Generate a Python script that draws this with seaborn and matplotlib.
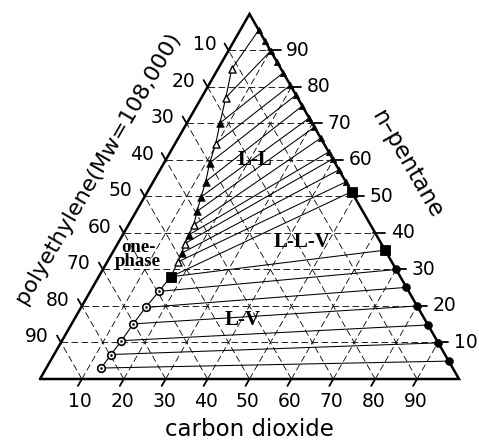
import numpy as np
import pandas as pd
import matplotlib
matplotlib.use("Agg")
import matplotlib.pyplot as plt
import seaborn as sns

H = np.sqrt(3) / 2

# Polymer-rich liquid in the L-L region (wt% CO2, wt% n-pentane)
ll_poly_co2 = [3.3, 5.8, 7.9, 9.7, 10.9, 12.5, 13.5, 14.5, 15.6, 15.8, 16.0, 16.6, 16.9]
ll_poly_pent = [84.9, 77.1, 70.1, 64.5, 59.2, 54.1, 49.9, 45.9, 42.2, 39.5, 37.1, 34.5, 32.1]
ll_poly_open = [True, True, False, True, False, False, False, False, True, False, True, False, True]

# Pentane-rich liquid on the polymer-free edge (wt% n-pentane)
ll_pent_pent = [95.6, 92.7, 89.9, 86.9, 83.9, 80.5, 77.8, 74.8, 71.5, 69.0, 66.0, 62.2, 60.3, 57.3, 54.0]
# Pentane-rich end of each L-L tie line
ll_tie_pent = [95.6, 89.9, 83.9, 80.5, 77.8, 74.8, 71.5, 69.0, 66.0, 62.2, 60.3, 57.3, 54.0]

# Three-phase (L-L-V) compositions
llv_co2 = [17.2, 48.7, 64.7]
llv_pent = [28.0, 51.3, 35.3]

# L-V region: liquid (polymer-rich) and vapour (polymer-free) phases
lv_liq_co2 = [16.4, 15.4, 14.7, 14.2, 13.6, 13.1]
lv_liq_pent = [24.0, 19.6, 15.1, 10.5, 6.7, 3.0]
lv_vap_pent = [30.0, 25.1, 20.0, 14.8, 9.9, 4.9]

tick_values = [10, 20, 30, 40, 50, 60, 70, 80, 90]


def tern(co2, pent):
    co2 = np.asarray(co2, dtype=float)
    pent = np.asarray(pent, dtype=float)
    return co2 + pent / 2, pent * H


sns.set_style("white")
plt.rcParams["font.family"] = ["DejaVu Sans"]
plt.rcParams["text.color"] = "black"

fig = plt.figure(figsize=(4.79, 4.41), dpi=100)
ax = fig.add_axes([0, 0, 1, 1])
ax.set_xlim(-9.547, 104.773)
ax.set_ylim(-14.71, 89.92)
ax.axis("off")

# dashed composition grid
grid_kw = dict(color="black", lw=0.6, ls=(0, (8, 4)), zorder=1)
for v in tick_values:
    ax.plot([v / 2, 100 - v / 2], [v * H, v * H], **grid_kw)
    ax.plot([v, v + (100 - v) / 2], [0, (100 - v) * H], **grid_kw)
    ax.plot([100 - v, (100 - v) / 2], [0, (100 - v) * H], **grid_kw)

# triangle frame
ax.plot([0, 100, 50, 0], [0, 0, 100 * H, 0], color="black", lw=1.8,
        solid_joinstyle="miter", zorder=5)

# tie lines
rows = []
tid = 0
for c, p, pr in zip(ll_poly_co2, ll_poly_pent, ll_tie_pent):
    for cc, pp in [(c, p), (100 - pr, pr)]:
        x, y = tern(cc, pp)
        rows.append((tid, float(x), float(y)))
    tid += 1
for k in (1, 2):
    for cc, pp in [(llv_co2[0], llv_pent[0]), (llv_co2[k], llv_pent[k])]:
        x, y = tern(cc, pp)
        rows.append((tid, float(x), float(y)))
    tid += 1
for c, p, pv in zip(lv_liq_co2, lv_liq_pent, lv_vap_pent):
    for cc, pp in [(c, p), (100 - pv, pv)]:
        x, y = tern(cc, pp)
        rows.append((tid, float(x), float(y)))
    tid += 1
ties = pd.DataFrame(rows, columns=["tie", "x", "y"])
sns.lineplot(data=ties, x="x", y="y", units="tie", estimator=None, sort=False,
             color="black", lw=0.75, legend=False, ax=ax, zorder=3)

# polymer-rich phase boundary
bc = ll_poly_co2 + [llv_co2[0]] + lv_liq_co2
bp = ll_poly_pent + [llv_pent[0]] + lv_liq_pent
bx, by = tern(bc, bp)
bnd = pd.DataFrame({"x": bx, "y": by})
sns.lineplot(data=bnd, x="x", y="y", sort=False, estimator=None, color="black",
             lw=0.8, ax=ax, zorder=3)

# markers
px, py = tern(ll_poly_co2, ll_poly_pent)
poly = pd.DataFrame({"x": px, "y": py, "open": ll_poly_open})
sns.scatterplot(data=poly[poly["open"]], x="x", y="y", marker="^", s=26,
                facecolor="white", edgecolor="black", linewidth=1.0, ax=ax, zorder=6)
sns.scatterplot(data=poly[~poly["open"]], x="x", y="y", marker="^", s=30,
                color="black", edgecolor="black", ax=ax, zorder=6)

ex, ey = tern([100 - p for p in ll_pent_pent], ll_pent_pent)
sns.scatterplot(x=ex, y=ey, marker="^", s=22, color="black", edgecolor="black",
                ax=ax, zorder=6)

sx, sy = tern(llv_co2, llv_pent)
sns.scatterplot(x=sx, y=sy, marker="s", s=55, color="black", edgecolor="black",
                ax=ax, zorder=7)

lx, ly = tern(lv_liq_co2, lv_liq_pent)
sns.scatterplot(x=lx, y=ly, marker="o", s=30, facecolor="white", edgecolor="black",
                linewidth=1.2, ax=ax, zorder=6)
sns.scatterplot(x=lx, y=ly, marker="o", s=3, color="black", edgecolor="black",
                ax=ax, zorder=7)

vx, vy = tern([100 - p for p in lv_vap_pent], lv_vap_pent)
sns.scatterplot(x=vx, y=vy, marker="o", s=32, color="black", edgecolor="black",
                ax=ax, zorder=6)

# ticks and tick labels
tl = 1.9
for v in tick_values:
    # carbon dioxide (bottom)
    ax.plot([v, v - 0.5 * tl], [0, -H * tl], color="black", lw=1.3, zorder=5)
    ax.text(v - 0.4, -5.3, str(v), ha="center", va="center", fontsize=13.5)
    # n-pentane (right)
    xr, yr = tern(100 - v, v)
    ax.plot([xr - 0.5, xr + 2.4], [yr, yr], color="black", lw=1.3, zorder=5)
    ax.text(xr + 3.7, yr, str(v), ha="left", va="center", fontsize=13.5)
    # polyethylene (left)
    xl, yl = tern(0, 100 - v)
    ax.plot([xl, xl - 0.5 * tl], [yl, yl + H * tl], color="black", lw=1.3, zorder=5)
    ax.text(xl - 2.9, yl + 1.4, str(v), ha="right", va="center", fontsize=13.5)

# axis titles
ax.text(50.1, -12.1, "carbon dioxide", ha="center", va="center", fontsize=16.5)
ax.text(87.6, 50.8, "n\u2013pentane", ha="center", va="center", fontsize=16.5,
        rotation=-60, rotation_mode="anchor")
ax.text(13.8, 50.0, "polyethylene(Mw=108,000)", ha="center", va="center",
        fontsize=16, rotation=60, rotation_mode="anchor")

# phase region labels
serif = dict(family="Liberation Serif", fontweight="bold", ha="center", va="center")
ax.text(51.3, 52.0, "L-L", fontsize=15, **serif)
ax.text(62.5, 32.5, "L-L-V", fontsize=15, **serif)
ax.text(48.4, 14.0, "L-V", fontsize=15, **serif)
ax.text(23.4, 29.5, "one-\nphase", fontsize=13.5, linespacing=0.8, **serif)

fig.savefig("out.png", dpi=100)
